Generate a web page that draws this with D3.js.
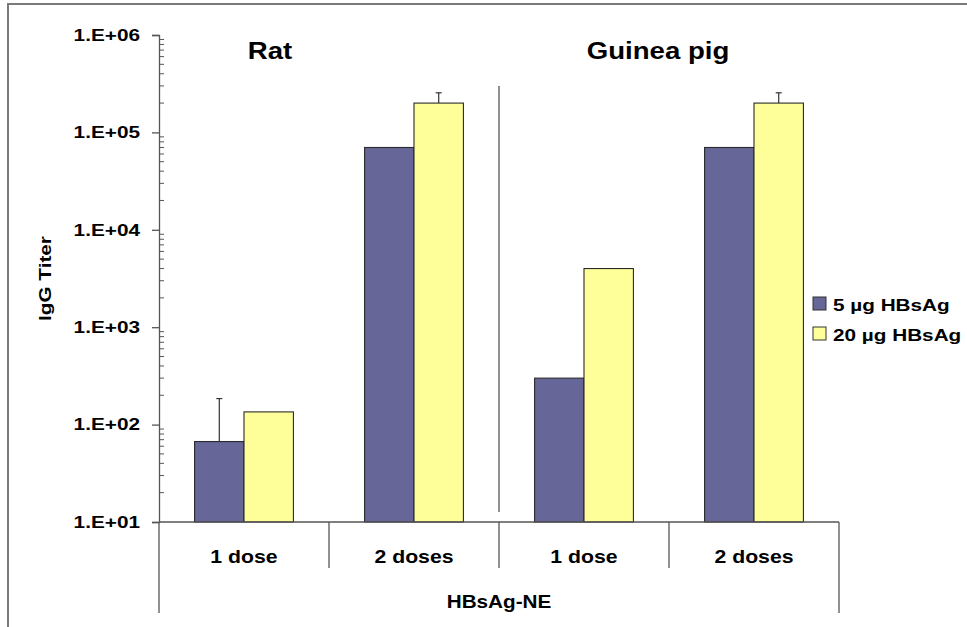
<!DOCTYPE html>
<html>
<head>
<meta charset="utf-8">
<script src="https://cdn.jsdelivr.net/npm/d3@7"></script>
<style>
  body { margin: 0; background: #fff; }
  text { font-family: "Liberation Sans", Arial, sans-serif; fill: #000; font-weight: bold; }
</style>
</head>
<body>
<svg id="chart" width="967" height="627"></svg>
<script>
// data
const species = ["Rat", "Guinea pig"];
const doses = ["1 dose", "2 doses"];
const seriesNames = ["5 µg HBsAg", "20 µg HBsAg"];
const seriesColors = ["#666699", "#ffff99"];
// values in order: Rat 1 dose, Rat 2 doses, Guinea pig 1 dose, Guinea pig 2 doses
const low = [67, 70000, 300, 70000];
const high = [135, 200000, 4000, 200000];
const lowErr = [185, null, null, null];
const highErr = [null, 255000, null, 255000];
const yTicks = [1e1, 1e2, 1e3, 1e4, 1e5, 1e6];
const groupLabel = "HBsAg-NE";

const svg = d3.select("#chart");
const margin = {left: 159, top: 35, right: 128, bottom: 105};
const width = 967, height = 627;
const plotW = width - margin.left - margin.right;
const plotH = height - margin.top - margin.bottom;

// the original text is drawn wide, so stretch it sideways
function wideText(sel, sx){
  sel.each(function(){
    const t = d3.select(this);
    const xx = +t.attr("x") || 0;
    t.attr("x", xx / sx).attr("transform", "scale(" + sx + ",1)");
  });
}

// frame
svg.append("rect")
  .attr("x", 8).attr("y", 4)
  .attr("width", 966).attr("height", 640)
  .attr("fill", "none").attr("stroke", "#7a7a7a").attr("stroke-width", 2);

const g = svg.append("g").attr("transform", "translate(" + margin.left + "," + margin.top + ")");

const cats = [];
species.forEach(s => doses.forEach(d => cats.push(s + "|" + d)));

const x = d3.scaleBand().domain(cats).range([0, plotW]).paddingInner(0).paddingOuter(0);
const xi = d3.scaleBand().domain([0, 1]).range([0, x.bandwidth()]).paddingInner(0).paddingOuter(0.72);
const y = d3.scaleLog().domain([10, 1e6]).range([plotH, 0]);

// bars
const rows = cats.map((c, i) => ({cat: c, vals: [low[i], high[i]], errs: [lowErr[i], highErr[i]]}));
const grp = g.selectAll("g.cat").data(rows).enter().append("g")
  .attr("class", "cat")
  .attr("transform", d => "translate(" + x(d.cat) + ",0)");

grp.selectAll("rect").data(d => d.vals.map((v, k) => ({v: v, k: k}))).enter()
  .append("rect")
  .attr("x", d => xi(d.k))
  .attr("width", xi.bandwidth())
  .attr("y", d => y(d.v))
  .attr("height", d => plotH - y(d.v))
  .attr("fill", d => seriesColors[d.k])
  .attr("stroke", "#2a2a2a").attr("stroke-width", 1.1);

// error bars (upper only)
grp.each(function(d){
  const gg = d3.select(this);
  d.errs.forEach((e, k) => {
    if (e == null) return;
    const cx = xi(k) + xi.bandwidth() / 2;
    gg.append("line").attr("x1", cx).attr("x2", cx)
      .attr("y1", y(d.vals[k])).attr("y2", y(e))
      .attr("stroke", "#333").attr("stroke-width", 1.2);
    gg.append("line").attr("x1", cx - 3).attr("x2", cx + 3)
      .attr("y1", y(e)).attr("y2", y(e))
      .attr("stroke", "#333").attr("stroke-width", 1.2);
  });
});

// y axis
const minor = [];
for (let p = 1; p < 6; p++) for (let m = 2; m <= 9; m++) minor.push(m * Math.pow(10, p));
g.selectAll("line.minor").data(minor).enter().append("line")
  .attr("x1", 0).attr("x2", 5)
  .attr("y1", d => y(d)).attr("y2", d => y(d))
  .attr("stroke", "#555").attr("stroke-width", 1);

const yAxis = g.append("g")
  .call(d3.axisLeft(y).tickValues(yTicks).tickSize(7).tickPadding(12)
    .tickFormat(d => "1.E+" + String(Math.round(Math.log10(d))).padStart(2, "0")));
yAxis.select(".domain").attr("stroke", "#555").attr("stroke-width", 1.3);
yAxis.selectAll(".tick line").attr("stroke", "#555").attr("stroke-width", 1.3);
yAxis.selectAll(".tick text")
  .style("font-size", "16.5px").style("font-weight", "bold")
  .style("font-family", "Liberation Sans, Arial, sans-serif")
  .call(wideText, 1.26);

g.append("text")
  .attr("transform", "translate(" + (-108) + "," + (plotH / 2) + ") rotate(-90) scale(1.22,1)")
  .attr("text-anchor", "middle")
  .style("font-size", "17px")
  .text("IgG Titer");

// x axis baseline
g.append("line").attr("x1", 0).attr("x2", plotW)
  .attr("y1", plotH).attr("y2", plotH)
  .attr("stroke", "#555").attr("stroke-width", 1.3);

// category separators
const seps = [1, 2, 3];
g.selectAll("line.sep").data(seps).enter().append("line")
  .attr("x1", i => x(cats[i])).attr("x2", i => x(cats[i]))
  .attr("y1", plotH).attr("y2", plotH + 46)
  .attr("stroke", "#555").attr("stroke-width", 1.3);
[0, plotW].forEach(xx => {
  g.append("line").attr("x1", xx).attr("x2", xx)
    .attr("y1", plotH).attr("y2", plotH + 91)
    .attr("stroke", "#555").attr("stroke-width", 1.3);
});

g.selectAll("text.cat").data(cats).enter().append("text")
  .attr("x", d => x(d) + x.bandwidth() / 2)
  .attr("y", plotH + 41)
  .attr("text-anchor", "middle")
  .style("font-size", "18px")
  .text(d => d.split("|")[1])
  .call(wideText, 1.18);

g.append("text")
  .attr("x", plotW / 2).attr("y", plotH + 86)
  .attr("text-anchor", "middle")
  .style("font-size", "18px")
  .text(groupLabel)
  .call(wideText, 1.15);

// species divider and titles
const divX = x(cats[2]);
g.append("line").attr("x1", divX).attr("x2", divX)
  .attr("y1", y(3e5)).attr("y2", plotH - 10)
  .attr("stroke", "#555").attr("stroke-width", 1.3);

species.forEach((s, i) => {
  const c0 = x(cats[i * 2]), c1 = x(cats[i * 2 + 1]) + x.bandwidth();
  g.append("text")
    .attr("x", (c0 + c1) / 2 + (i === 0 ? -59 : -11))
    .attr("y", 24)
    .attr("text-anchor", "middle")
    .style("font-size", "23px")
    .text(s)
    .call(wideText, 1.2);
});

// legend
const leg = svg.append("g").attr("transform", "translate(813,297)");
seriesNames.forEach((n, i) => {
  leg.append("rect").attr("x", 0).attr("y", i * 30)
    .attr("width", 13).attr("height", 13)
    .attr("fill", seriesColors[i]).attr("stroke", "#333").attr("stroke-width", 1);
  leg.append("text").attr("x", 20).attr("y", i * 30 + 14)
    .style("font-size", "17px")
    .text(n)
    .call(wideText, 1.22);
});
</script>
</body>
</html>
